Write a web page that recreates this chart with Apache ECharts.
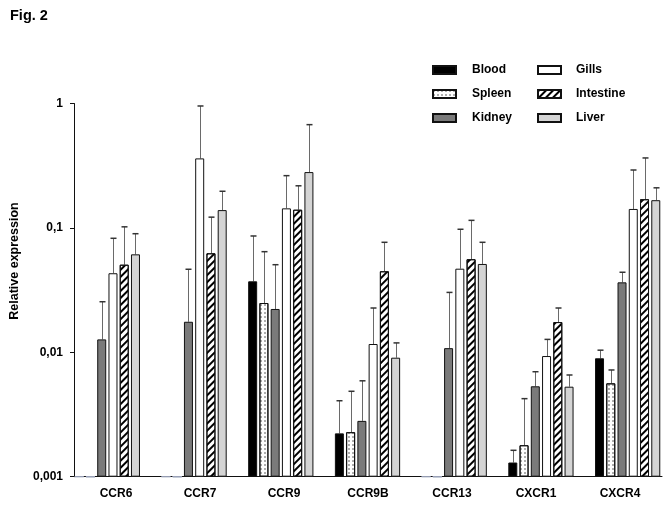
<!DOCTYPE html>
<html>
<head>
<meta charset="utf-8">
<script src="https://cdn.jsdelivr.net/npm/echarts@6/dist/echarts.min.js"></script>
<style>
html,body{margin:0;padding:0;background:#fff;}
#chart{width:671px;height:507px;}
</style>
</head>
<body>
<div id="chart"></div>
<script>
// ---- data ----
const categories = ['CCR6', 'CCR7', 'CCR9', 'CCR9B', 'CCR13', 'CXCR1', 'CXCR4'];
const tissues = ['Blood', 'Spleen', 'Kidney', 'Gills', 'Intestine', 'Liver'];
// mean relative expression (null = not detected)
const blood     = [null,   null,   0.0372, 0.00223, null,   0.00130, 0.00895];
const spleen    = [null,   null,   0.0249, 0.00228, null,   0.00179, 0.00563];
const kidney    = [0.0127, 0.0176, 0.0223, 0.00281, 0.0108, 0.00533, 0.0365];
const gills     = [0.0432, 0.362,  0.1436, 0.01166, 0.047,  0.00933, 0.142];
const intestine = [0.0506, 0.0625, 0.140,  0.0448,  0.056,  0.0175,  0.170];
const liver     = [0.0613, 0.139,  0.281,  0.00905, 0.0513, 0.00529, 0.167];
// top of error bar (mean + SD)
const bloodErr     = [null,   null,   0.0861, 0.00408, null,   0.00163, 0.0104];
const spleenErr    = [null,   null,   0.0644, 0.00486, null,   0.00424, 0.00721];
const kidneyErr    = [0.0255, 0.0465, 0.0506, 0.0059,  0.0303, 0.00698, 0.044];
const gillsErr     = [0.0825, 0.955,  0.263,  0.0227,  0.0975, 0.0127,  0.292];
const intestineErr = [0.102,  0.122,  0.218,  0.0766,  0.115,  0.0227,  0.365];
const liverErr     = [0.0898, 0.197,  0.676,  0.0119,  0.0766, 0.00657, 0.21];
const yTicks = [0.001, 0.01, 0.1, 1];
const yTickLabels = ['0,001', '0,01', '0,1', '1'];

const means = [blood, spleen, kidney, gills, intestine, liver];
const errs = [bloodErr, spleenErr, kidneyErr, gillsErr, intestineErr, liverErr];

// ---- styles ----
const FONT = 'Liberation Sans, Arial, sans-serif';
const Y_MIN = yTicks[0], Y_MAX = yTicks[yTicks.length - 1];
const BAR_W = 9, BAR_GAP = 0.25;
const PITCH = BAR_W * (1 + BAR_GAP);
const styles = [
  { color: '#000000' },
  { color: '#ffffff', decal: { symbol: 'circle', symbolSize: 0.7, dashArrayX: [2, 2], dashArrayY: [2, 2], color: '#222' } },
  { color: '#7a7a7a' },
  { color: '#ffffff' },
  { color: '#ffffff', decal: { symbol: 'rect', symbolSize: 1, dashArrayX: [1, 0], dashArrayY: [2, 2.5], rotation: -Math.PI / 4, color: '#000' } },
  { color: '#d4d4d4' }
];

const series = [];
tissues.forEach((name, s) => {
  const st = styles[s];
  series.push({
    name: name,
    type: 'bar',
    xAxisIndex: 0, yAxisIndex: 0,
    barWidth: BAR_W,
    barGap: (BAR_GAP * 100) + '%',
    itemStyle: Object.assign({ borderColor: '#111', borderWidth: 1 }, st),
    data: means[s].map(v => v == null
      ? { value: Y_MIN, itemStyle: { color: 'rgba(0,0,0,0)', borderColor: '#9aa2b8', borderWidth: 1 } }
      : v),
    emphasis: { disabled: true },
    z: 2
  });
});

// error bars
series.push({
  type: 'custom',
  xAxisIndex: 0, yAxisIndex: 0,
  silent: true,
  z: 1,
  data: (function () {
    const d = [];
    means.forEach((arr, s) => arr.forEach((v, i) => {
      if (v != null && errs[s][i] != null) d.push([i, errs[s][i], v, s]);
    }));
    return d;
  })(),
  renderItem: function (params, api) {
    const i = api.value(0), top = api.value(1), v = api.value(2), s = api.value(3);
    const p1 = api.coord([i, top]);
    const p0 = api.coord([i, v]);
    const x = Math.round(p0[0] + (s - 2.5) * PITCH) + 0.5;
    return {
      type: 'group',
      children: [
        { type: 'line', shape: { x1: x, y1: p0[1], x2: x, y2: p1[1] }, style: { stroke: '#6a6a6a', lineWidth: 1 } },
        { type: 'line', shape: { x1: x - 3, y1: p1[1], x2: x + 3, y2: p1[1] }, style: { stroke: '#333', lineWidth: 1.5 } }
      ]
    };
  }
});

const chart = echarts.init(document.getElementById('chart'), null, { renderer: 'canvas' });
chart.setOption({
  animation: false,
  backgroundColor: '#ffffff',
  title: {
    text: 'Fig. 2', left: 5, top: 3,
    textStyle: { fontFamily: FONT, fontWeight: 'bold', fontSize: 14.5, color: '#000' }
  },
  legend: [
    {
      data: tissues.slice(0, 3), orient: 'vertical', left: 427, top: 58,
      itemWidth: 23, itemHeight: 8, itemGap: 10, selectedMode: false, icon: 'rect',
      textStyle: { fontFamily: FONT, fontWeight: 'bold', fontSize: 12, color: '#000', lineHeight: 14, padding: [0, 0, 0, 11] }
    },
    {
      data: tissues.slice(3), orient: 'vertical', left: 532, top: 58,
      itemWidth: 23, itemHeight: 8, itemGap: 10, selectedMode: false, icon: 'rect',
      textStyle: { fontFamily: FONT, fontWeight: 'bold', fontSize: 12, color: '#000', lineHeight: 14, padding: [0, 0, 0, 10] }
    }
  ],
  grid: [
    { left: 64, width: 611, top: 103.5, height: 373.2 },
    { left: 74, width: 588, top: 103.5, height: 373.2 }
  ],
  xAxis: [
    { type: 'category', gridIndex: 0, data: categories, show: false },
    {
      type: 'category', gridIndex: 1, data: categories,
      axisLine: { lineStyle: { color: '#111', width: 1 } },
      axisTick: { show: false },
      axisLabel: { margin: 11, fontFamily: FONT, fontWeight: 'bold', fontSize: 12, color: '#000' }
    }
  ],
  yAxis: [
    { type: 'log', gridIndex: 0, min: Y_MIN, max: Y_MAX, logBase: 10, startValue: Y_MIN, show: false, splitLine: { show: false } },
    {
      type: 'log', gridIndex: 1, min: Y_MIN, max: Y_MAX, logBase: 10,
      axisLine: { show: true, lineStyle: { color: '#111', width: 1 } },
      axisTick: { show: true, length: 4, inside: false, lineStyle: { color: '#111' } },
      minorTick: { show: false },
      splitLine: { show: false },
      axisLabel: {
        margin: 11, fontFamily: FONT, fontWeight: 'bold', fontSize: 12, color: '#000',
        formatter: function (v) {
          const k = yTicks.findIndex(t => Math.abs(Math.log10(t) - Math.log10(v)) < 1e-6);
          return k >= 0 ? yTickLabels[k] : '';
        }
      }
    }
  ],
  graphic: [
    {
      type: 'text', x: 15, y: 261, rotation: Math.PI / 2,
      style: { text: 'Relative expression', fontFamily: FONT, fontWeight: 'bold', fontSize: 12.5, fill: '#000', align: 'center', verticalAlign: 'middle' }
    }
  ],
  series: series
});
</script>
</body>
</html>
